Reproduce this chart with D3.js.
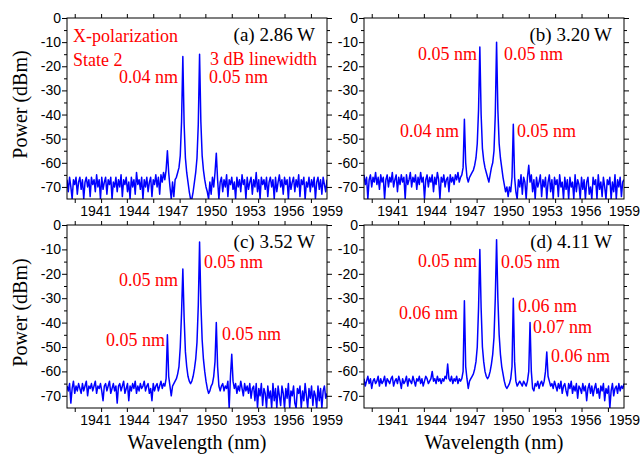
<!DOCTYPE html>
<html>
<head>
<meta charset="utf-8">
<script src="https://cdn.jsdelivr.net/npm/d3@7"></script>
<style>
body { margin: 0; background: #fff; }
svg { display: block; font-family: 'Liberation Serif', 'Times New Roman', serif; }
</style>
</head>
<body>
<svg id="chart" width="641" height="456"></svg>
<script>
'use strict';

// OSA trace grid (nm): first sample and spacing
var wlStart = 1938.8;
var wlStep = 0.1;

var xTickLabels = [1941, 1944, 1947, 1950, 1953, 1956, 1959];
var xTickMarks = [1939.4, 1941.45, 1943.45, 1945.5, 1947.55, 1949.55, 1951.6, 1953.65, 1955.7, 1957.75];
var yTickLabels = [0, -10, -20, -30, -40, -50, -60, -70];
var yMinorTicks = [-5, -15, -25, -35, -45, -55, -65];

var pumpPowers = ['(a) 2.86 W', '(b) 3.20 W', '(c) 3.52 W', '(d) 4.11 W'];

// power (dBm), one value per grid step
var powerA = [
	-67,-72,-66,-70,-75,-67,-69,-66,-73,-68,
	-66,-71,-67,-75,-68,-66,-70,-67,-74,-66,
	-69,-67,-72,-65,-70,-67,-75,-66,-71,-68,
	-66,-73,-67,-69,-66,-75,-68,-70,-66,-72,
	-67,-70,-65,-74,-67,-69,-66,-72,-68,-75,
	-66,-70,-67,-73,-64,-69,-67,-71,-66,-75,
	-67,-70,-66,-72,-68,-66,-74,-67,-69,-65,
	-70,-66,-73,-65,-68,-64,-67,-63,-55,-64,
	-70,-75,-68,-74,-67,-66,-64,-62,-57,-43,
	-16,-44,-58,-64,-68,-72,-75,-75,-72,-68,
	-64,-58,-44,-15,-43,-57,-63,-67,-70,-72,
	-75,-68,-73,-66,-70,-64,-56,-67,-75,-68,
	-66,-72,-67,-70,-65,-74,-67,-69,-66,-71,
	-68,-75,-66,-70,-67,-72,-65,-69,-67,-75,
	-66,-71,-68,-66,-73,-67,-70,-64,-72,-67,
	-75,-66,-69,-67,-71,-66,-74,-68,-66,-70,
	-67,-75,-66,-72,-68,-65,-70,-67,-73,-66,
	-69,-67,-75,-66,-71,-68,-66,-72,-67,-70,
	-65,-74,-67,-69,-66,-75,-68,-70,-66,-72,
	-67,-70,-66,-75,-68,-66,-71,-67,-73,-66,
	-69,-72,-67
];
var powerB = [
	-65,-69,-66,-75,-67,-65,-70,-66,-68,-64,
	-69,-66,-71,-65,-68,-66,-75,-67,-65,-70,
	-66,-68,-64,-70,-67,-65,-72,-66,-69,-65,
	-68,-66,-75,-65,-69,-67,-64,-70,-66,-68,
	-65,-71,-66,-69,-64,-68,-66,-75,-67,-65,
	-70,-66,-68,-65,-72,-66,-69,-64,-67,-75,
	-66,-68,-65,-70,-67,-66,-72,-65,-68,-66,
	-69,-65,-67,-64,-68,-66,-65,-62,-42,-60,
	-66,-68,-66,-65,-64,-63,-61,-58,-52,-38,
	-12,-40,-54,-59,-62,-64,-66,-68,-65,-62,
	-60,-55,-40,-10,-38,-52,-58,-62,-66,-69,
	-72,-70,-74,-70,-72,-66,-44,-66,-72,-75,
	-67,-70,-65,-73,-66,-68,-75,-66,-61,-68,
	-65,-72,-67,-75,-66,-70,-68,-65,-74,-67,
	-70,-66,-75,-68,-65,-72,-67,-75,-66,-69,
	-67,-74,-65,-70,-68,-75,-66,-71,-67,-75,
	-66,-70,-68,-75,-65,-72,-67,-69,-75,-66,
	-71,-67,-75,-68,-66,-73,-70,-75,-66,-69,
	-67,-75,-65,-71,-68,-74,-66,-70,-75,-67,
	-69,-66,-75,-68,-72,-65,-75,-67,-70,-66,
	-74,-68,-67
];
var powerC = [
	-66,-68,-65,-73,-67,-64,-69,-66,-68,-65,
	-67,-69,-65,-68,-66,-64,-70,-66,-67,-65,
	-68,-66,-64,-69,-66,-67,-65,-68,-72,-66,
	-65,-68,-66,-64,-69,-67,-65,-68,-66,-73,
	-66,-65,-68,-66,-64,-69,-67,-65,-72,-66,
	-68,-65,-67,-64,-69,-66,-68,-65,-67,-66,
	-64,-68,-66,-65,-69,-67,-72,-65,-68,-66,
	-65,-68,-66,-64,-67,-65,-66,-63,-45,-62,
	-66,-70,-66,-65,-64,-63,-61,-58,-50,-36,
	-18,-38,-52,-58,-62,-64,-65,-64,-62,-59,
	-55,-48,-33,-7,-32,-47,-55,-60,-64,-67,
	-69,-68,-66,-65,-62,-56,-40,-58,-66,-68,
	-66,-65,-68,-66,-67,-64,-75,-62,-53,-64,
	-67,-65,-69,-66,-68,-64,-67,-70,-65,-68,
	-66,-69,-65,-71,-67,-66,-72,-65,-75,-67,
	-70,-65,-74,-67,-69,-75,-66,-71,-68,-75,
	-65,-72,-67,-75,-66,-70,-74,-66,-69,-75,
	-67,-71,-65,-75,-68,-70,-66,-73,-75,-67,
	-69,-66,-75,-68,-72,-65,-70,-75,-67,-71,
	-66,-74,-68,-70,-75,-66,-72,-67,-75,-68,
	-66,-71,-69
];
var powerD = [
	-63,-66,-64,-62,-65,-63,-67,-64,-63,-65,
	-64,-62,-66,-63,-65,-64,-62,-66,-63,-64,
	-65,-63,-62,-66,-64,-63,-65,-62,-64,-67,
	-63,-65,-64,-62,-66,-63,-64,-65,-62,-64,
	-66,-63,-64,-62,-65,-63,-66,-64,-62,-63,
	-65,-64,-63,-60,-64,-63,-65,-62,-64,-63,
	-65,-63,-64,-62,-63,-57,-63,-64,-62,-65,
	-63,-64,-62,-65,-63,-64,-63,-60,-31,-58,
	-63,-67,-64,-63,-62,-61,-59,-56,-50,-34,
	-10,-34,-50,-56,-60,-62,-63,-62,-60,-57,
	-53,-46,-30,-6,-30,-45,-53,-58,-61,-64,
	-66,-67,-66,-65,-63,-58,-30,-56,-64,-66,
	-65,-64,-65,-66,-64,-65,-66,-64,-60,-40,
	-60,-67,-68,-65,-66,-64,-67,-65,-64,-66,
	-64,-60,-52,-62,-64,-66,-65,-67,-64,-66,
	-68,-65,-67,-64,-69,-66,-65,-68,-70,-65,
	-67,-64,-69,-66,-68,-65,-71,-66,-67,-69,
	-65,-68,-66,-72,-67,-65,-69,-66,-70,-67,
	-65,-69,-67,-71,-66,-68,-65,-72,-67,-69,
	-66,-75,-68,-65,-70,-67,-66,-69,-65,-68,
	-66,-67,-65
];

// 3 dB linewidth notes (red), offsets in px from each panel's top-left corner
var notes = [
	[['X-polarization', 6, 24], ['State 2', 6, 48], ['3 dB linewidth', 143, 47], ['0.04 nm', 52, 65], ['0.05 nm', 142, 65]],
	[['0.05 nm', 54, 42], ['0.05 nm', 140, 42], ['0.04 nm', 36, 119], ['0.05 nm', 153, 119]],
	[['0.05 nm', 52, 61], ['0.05 nm', 137, 43], ['0.05 nm', 39, 121], ['0.05 nm', 155, 115]],
	[['0.05 nm', 54, 42], ['0.05 nm', 137, 43], ['0.06 nm', 35, 94], ['0.06 nm', 154, 87], ['0.07 nm', 169, 108], ['0.06 nm', 187, 137]]
];

var traces = [powerA, powerB, powerC, powerD];

// Layout
var colLeft = [67, 364];
var rowTop = [18, 225];
var rowHeight = [181, 183];
var plotWidth = 260;

var svg = d3.select('#chart');

traces.forEach(function(power, p) {
	var col = p % 2, row = Math.floor(p / 2);
	var w = plotWidth, h = rowHeight[row];
	var g = svg.append('g').attr('transform', 'translate(' + colLeft[col] + ',' + rowTop[row] + ')');

	// Scales
	var x = d3.scaleLinear().domain([wlStart, 1959]).range([0, w]);
	var y = d3.scaleLinear().domain([-75, 0]).range([h, 0]);

	// Trace
	g.append('clipPath').attr('id', 'clip' + p)
		.append('rect').attr('width', w).attr('height', h);

	var line = d3.line()
		.x(function(d, i) { return x(wlStart + i * wlStep); })
		.y(function(d) { return y(d); });

	g.append('path')
		.datum(power)
		.attr('clip-path', 'url(#clip' + p + ')')
		.attr('fill', 'none')
		.attr('stroke', '#0000ff')
		.attr('stroke-width', 1.5)
		.attr('stroke-linejoin', 'round')
		.attr('d', line);

	// Axes: ticks outward on all four sides
	var mk = function(axis, sel, size, vals) {
		sel.call(axis.tickValues(vals).tickSize(size).tickFormat(''));
		sel.select('.domain').remove();
	};
	mk(d3.axisBottom(x), g.append('g').attr('transform', 'translate(0,' + h + ')'), 4, xTickMarks);
	mk(d3.axisTop(x), g.append('g'), 4, xTickMarks);
	mk(d3.axisLeft(y), g.append('g'), 5, yTickLabels);
	mk(d3.axisLeft(y), g.append('g'), 3, yMinorTicks);
	mk(d3.axisRight(y), g.append('g').attr('transform', 'translate(' + w + ',0)'), 5, yTickLabels);
	mk(d3.axisRight(y), g.append('g').attr('transform', 'translate(' + w + ',0)'), 3, yMinorTicks);

	var xl = g.append('g').attr('transform', 'translate(0,' + h + ')')
		.call(d3.axisBottom(x).tickValues(xTickLabels).tickSize(0).tickPadding(0).tickFormat(d3.format('d')));
	xl.select('.domain').remove();
	xl.selectAll('text').attr('dy', null).attr('y', 17)
		.attr('font-size', 14).attr('font-family', null).attr('fill', '#000');

	var yl = g.append('g')
		.call(d3.axisLeft(y).tickValues(yTickLabels).tickSize(0).tickPadding(6).tickFormat(function(d) { return String(d); }));
	yl.select('.domain').remove();
	yl.selectAll('text').attr('font-size', 14).attr('font-family', null).attr('fill', '#000');

	g.append('rect')
		.attr('width', w).attr('height', h)
		.attr('fill', 'none').attr('stroke', '#000').attr('stroke-width', 1);

	// Labels
	g.append('text')
		.attr('x', w - 12).attr('y', 23)
		.attr('text-anchor', 'end')
		.attr('font-size', 19)
		.text(pumpPowers[p]);

	g.selectAll('.note')
		.data(notes[p])
		.enter()
		.append('text')
		.attr('class', 'note')
		.attr('x', function(d) { return d[1]; })
		.attr('y', function(d) { return d[2]; })
		.attr('fill', '#ff0000')
		.attr('font-size', 18)
		.text(function(d) { return d[0]; });

	if(col === 0) {
		g.append('text')
			.attr('transform', 'translate(' + (27 - colLeft[0]) + ',' + (h / 2 - 4) + ') rotate(-90)')
			.attr('text-anchor', 'middle')
			.attr('font-size', 20)
			.text('Power (dBm)');
	}
	if(row === 1) {
		g.append('text')
			.attr('x', w / 2).attr('y', h + 41)
			.attr('text-anchor', 'middle')
			.attr('font-size', 20)
			.text('Wavelength (nm)');
	}
});
</script>
</body>
</html>
